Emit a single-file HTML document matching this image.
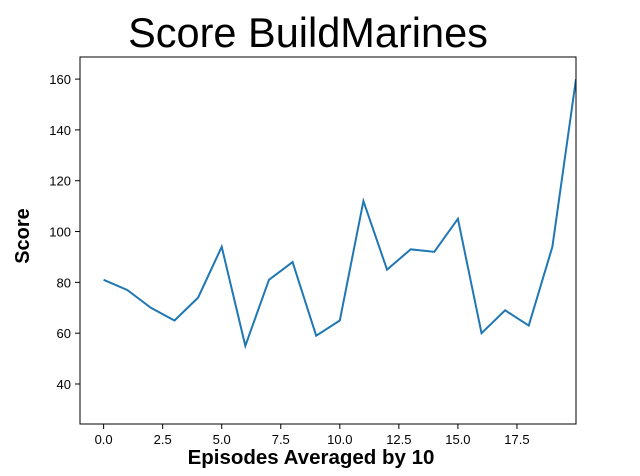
<!DOCTYPE html>
<html><head><meta charset="utf-8"><style>
body{margin:0;background:#fff;}
svg{display:block;font-family:"Liberation Sans","DejaVu Sans",sans-serif;}
</style></head><body>
<svg id="chart" width="640" height="476">
<text x="308" y="47" font-size="41.5" text-anchor="middle">Score BuildMarines</text>
<g id="ticks"></g>
<path id="line" fill="none" stroke="#1f77b4" stroke-width="2" clip-path="url(#clip)"/>
<clipPath id="clip"><rect x="80" y="57" width="496" height="367"/></clipPath>
<rect x="80" y="57" width="496" height="367" fill="none" stroke="#000" stroke-width="1"/>
<text x="311" y="464" font-size="20.5" font-weight="bold" text-anchor="middle">Episodes Averaged by 10</text>
<text x="29" y="236" font-size="20" font-weight="bold" text-anchor="middle" transform="rotate(-90 29 236)">Score</text>
</svg>
<script>
const episodes=[0,1,2,3,4,5,6,7,8,9,10,11,12,13,14,15,16,17,18,19,20];
const scores=[81,77,70,65,74,94,55,81,88,59,65,112,85,93,92,105,60,69,63,94,160];
const xTicks=[0,2.5,5,7.5,10,12.5,15,17.5];
const yTicks=[40,60,80,100,120,140,160];
const X0=80,X1=576,Y0=424,Y1=57,xmin=-1,xmax=20,ymin=24.25,ymax=168.7;
const sx=v=>X0+(v-xmin)/(xmax-xmin)*(X1-X0);
const sy=v=>Y0-(v-ymin)/(ymax-ymin)*(Y0-Y1);
const NS="http://www.w3.org/2000/svg";
const g=document.getElementById('ticks');
function mk(t,a){const e=document.createElementNS(NS,t);for(const k in a)e.setAttribute(k,a[k]);return e;}
xTicks.forEach(v=>{
 const l=mk('line',{x1:sx(v),x2:sx(v),y1:Y0,y2:Y0+5,stroke:'#000'});
 
 
 g.appendChild(l);
 const t=mk('text',{x:sx(v),y:Y0+20,'font-size':13,'text-anchor':'middle'});
 
 
 t.textContent=v.toFixed(1);g.appendChild(t);
});
yTicks.forEach(v=>{
 const l=mk('line',{x1:X0-5,x2:X0,y1:sy(v),y2:sy(v),stroke:'#000'});
 
 
 g.appendChild(l);
 const t=mk('text',{x:X0-9,y:sy(v)+5,'font-size':13,'text-anchor':'end'});
 
 
 t.textContent=v;g.appendChild(t);
});
document.getElementById('line').setAttribute('d',episodes.map((e,i)=>(i?'L':'M')+sx(e)+','+sy(scores[i])).join(''));
</script>
</body></html>
